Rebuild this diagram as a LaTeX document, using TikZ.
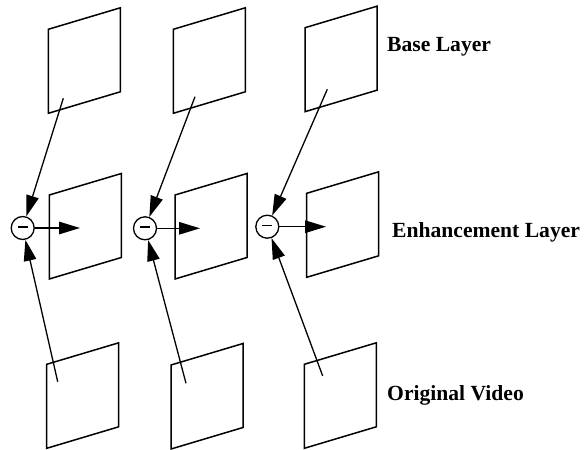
\documentclass[tikz,border=0pt]{standalone}
\usepackage{fontspec}
\setmainfont{Liberation Serif}
\usetikzlibrary{arrows.meta}
\begin{document}
\begin{tikzpicture}[x=1pt,y=-1pt,
  plane/.style={draw,line width=1.5pt,line join=miter},
  conn/.style={line width=1.3pt,-{Triangle[length=21pt,width=12.5pt]}},
  diff/.style={circle,draw,line width=1.3pt,minimum size=23pt,inner sep=0pt},
  lbl/.style={anchor=base west,inner sep=0pt,font=\fontsize{21.6}{26}\selectfont\bfseries}]
\useasboundingbox (0,0) rectangle (584,450);

% frames: left-top corner, then width 72, rise 21.5, height 84
\foreach \x/\y in {48.3/29.3,173.3/29.3,305/27.7,
                   49.3/195,175/195,306.7/193.3,
                   46.7/364.3,171/365,304.3/364.3}
  \draw[plane] (\x,\y) -- ++(72,-21.5) -- ++(0,84) -- ++(-72,21.5) -- cycle;

% difference nodes
\node[diff] (d1) at (22.7,228) {\rule[0.5ex]{10pt}{1.4pt}};
\node[diff] (d2) at (145,228.3) {\rule[0.5ex]{10pt}{1.4pt}};
\node[diff] (d3) at (267.3,226.7) {\rule[0.5ex]{10pt}{1.4pt}};

% sources in base layer frames
\coordinate (b1) at (63.3,98.3);
\coordinate (b2) at (195,96.7);
\coordinate (b3) at (327.3,89.3);
% sources in original video frames
\coordinate (o1) at (57.7,381.7);
\coordinate (o2) at (186,383.3);
\coordinate (o3) at (322.7,376);
% targets in enhancement layer frames
\coordinate (e1) at (80,228);
\coordinate (e2) at (200,228.3);
\coordinate (e3) at (326,226.7);

\foreach \i in {1,2,3}{
  \draw[conn] (b\i) -- (d\i);
  \draw[conn] (o\i) -- (d\i);
  \draw[conn] (d\i) -- (e\i);
}

\node[lbl] (tb) at (387,51.7) {Base Layer};
\node[lbl] (te) at (392,237.3) {Enhancement Layer};
\node[lbl] (to) at (387,400) {Original Video};
\end{tikzpicture}
\end{document}
